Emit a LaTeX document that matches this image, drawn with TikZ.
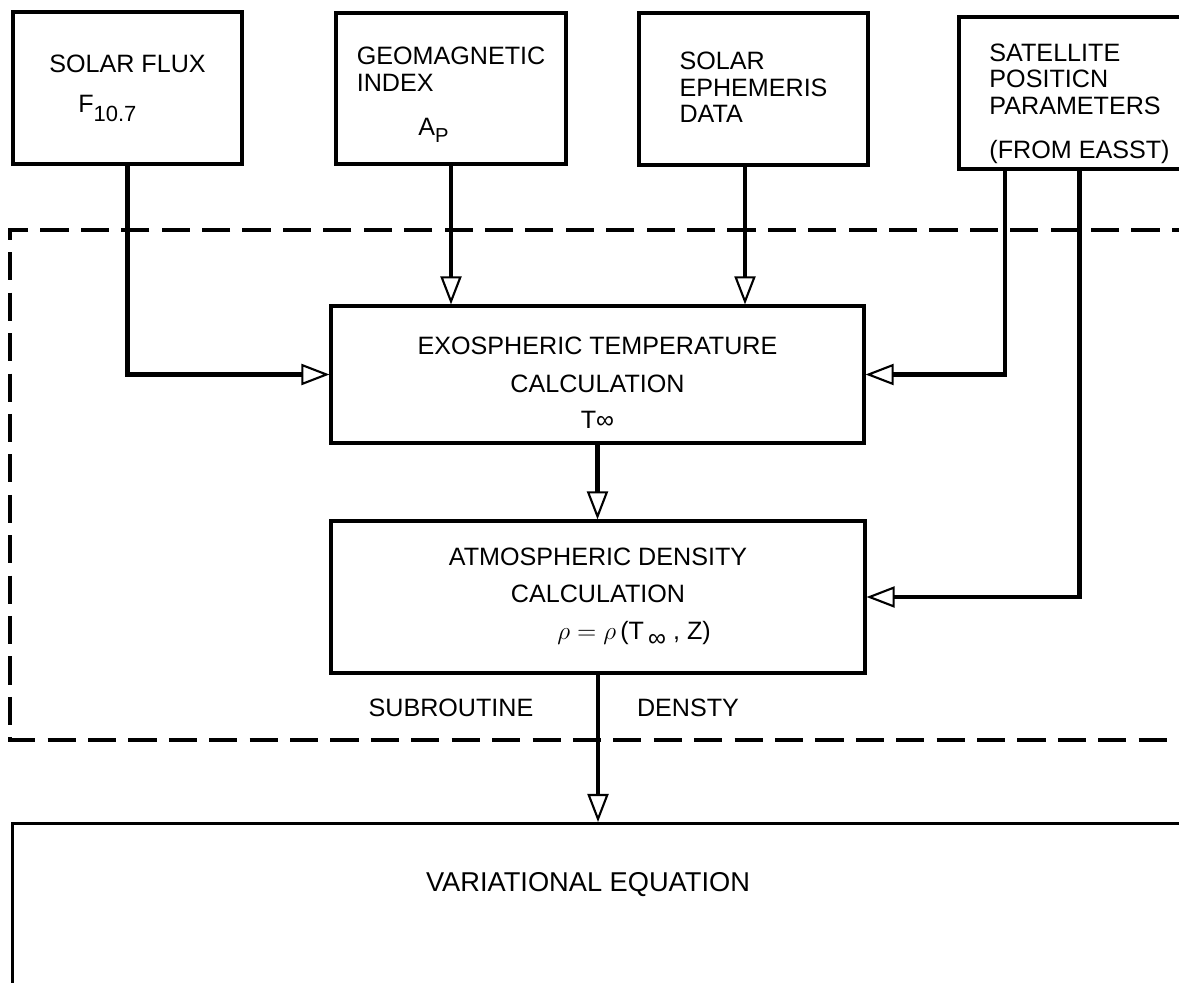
\documentclass[tikz,border=0pt]{standalone}
\usepackage{fontspec}
\setmainfont{Liberation Sans}
\usetikzlibrary{arrows.meta}
\tikzset{
  box/.style={draw, line width=1.8pt, align=center, inner sep=0pt},
  flow/.style={line width=2.4pt, -{Triangle[open, line width=1.2pt, length=16pt, width=12pt]}},
  frame/.style={line width=2pt, dash pattern=on 16pt off 7pt},
}
\begin{document}
\begin{tikzpicture}[x=0.02cm, y=-0.02cm, font=\fontsize{14.3}{15}\selectfont]
\useasboundingbox (0,0) rectangle (1179,983);
\clip (0,0) rectangle (1179,983);
% input boxes
\node[box, minimum width=4.58cm, minimum height=3.04cm] (sflux) at (127.5,88) {SOLAR FLUX\\[8pt]F\raisebox{-5pt}{\fontsize{12.5}{12}\selectfont 10.7}\hspace*{1.6em}};
\node[box, align=left, minimum width=4.6cm, minimum height=3.02cm] (geomag) at (451,88.5) {\rule{0pt}{17pt}GEOMAGNETIC\\INDEX\\[10pt]\hspace*{35pt}A\raisebox{-4pt}{\fontsize{11.5}{11}\selectfont P}};
\node[box, align=left, minimum width=4.58cm, minimum height=3.04cm] (ephem) at (753.5,89) {SOLAR\\EPHEMERIS\\DATA\rule[-2pt]{0pt}{0pt}};
\node[box, align=left, minimum width=4.82cm, minimum height=3.04cm] (sat) at (1079.5,93) {\rule{0pt}{22pt}SATELLITE\\POSITICN\\PARAMETERS\\[10pt](FROM EASST)};
% subroutine frame
\draw[frame] (1200,230) -| (10,740) -- (1200,740);
\node[box, minimum width=10.66cm, minimum height=2.74cm] (exo) at (597.5,374.5) {\rule{0pt}{19pt}EXOSPHERIC TEMPERATURE\\[7pt]CALCULATION\\[5pt]T∞};
\node[box, minimum width=10.68cm, minimum height=3.04cm] (atm) at (598,597) {ATMOSPHERIC DENSITY\\[6pt]CALCULATION\\[6pt]\hspace*{41pt}$\rho=\rho$\,(T\,\raisebox{-4pt}{∞}\;, Z)};
\node (subr) at (451,708) {SUBROUTINE};
\node (densty) at (688,708) {DENSTY};
% output
\node[box, minimum width=23.4cm, minimum height=4cm, anchor=north] (var) at (597,822) {};
\node[font=\fontsize{15.5}{16}\selectfont] (vareq) at (588,885) {VARIATIONAL EQUATION};
% connectors
\draw[flow] (sflux.south) |- (exo.west);
\draw[flow] (geomag.south) -- (geomag.south |- exo.north);
\draw[flow] ([xshift=-0.17cm]ephem.south) -- ([xshift=-0.17cm]ephem.south |- exo.north);
\draw[flow] ([xshift=-1.49cm]sat.south) |- (exo.east);
\draw[flow] (sat.south) |- (atm.east);
\draw[flow] (exo.south) -- (exo.south |- atm.north);
\draw[flow] (atm.south) -- (atm.south |- var.north);
\end{tikzpicture}
\end{document}
